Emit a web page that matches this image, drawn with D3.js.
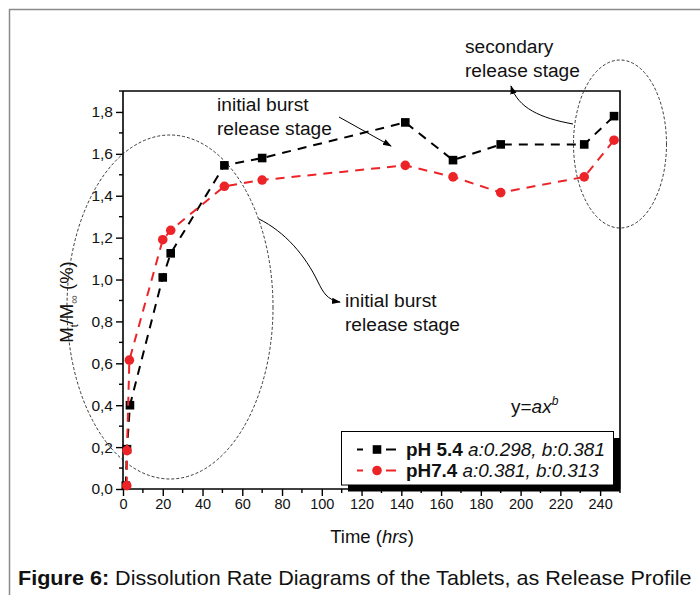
<!DOCTYPE html>
<html>
<head>
<meta charset="utf-8">
<script src="https://cdn.jsdelivr.net/npm/d3@7"></script>
<style>
  html, body { margin: 0; padding: 0; background: #fff; }
  svg { display: block; font-family: "Liberation Sans", Arial, sans-serif; }
</style>
</head>
<body>
<svg id="chart" width="700" height="595"></svg>
<script>
// ---- data ----
const timesPH54 = [1.4, 2, 3.5, 20, 24, 51, 70, 142, 166, 190, 232, 247];
const valuesPH54 = [0.016, 0.19, 0.40, 1.01, 1.125, 1.545, 1.58, 1.75, 1.57, 1.645, 1.645, 1.78];
const timesPH74 = [1.9, 2, 3.2, 20, 24, 51, 70, 142, 166, 190, 232, 247];
const valuesPH74 = [0.016, 0.183, 0.615, 1.19, 1.235, 1.445, 1.475, 1.545, 1.49, 1.415, 1.49, 1.665];
const xTickValues = [0, 20, 40, 60, 80, 100, 120, 140, 160, 180, 200, 220, 240];
const yTickValues = [0, 0.2, 0.4, 0.6, 0.8, 1.0, 1.2, 1.4, 1.6, 1.8];
const legendLabels = [
  {bold: "pH 5.4", italic: " a:0.298, b:0.381"},
  {bold: "pH7.4", italic: " a:0.381, b:0.313"}
];

const svg = d3.select("#chart");
const L = 123, R = 620, T = 91, B = 489;
const x = d3.scaleLinear().domain([0, 250]).range([L, R]);
const y = d3.scaleLinear().domain([0, 1.9]).range([B, T]);

// stretch a text element horizontally so it spans a given width from its left x
function fitWidth(t, x0, width) {
  const len = t.node().getComputedTextLength();
  const sx = width / len;
  const yv = +t.attr("y");
  t.attr("x", 0).attr("y", 0).attr("transform", `translate(${x0},${yv}) scale(${sx},1)`);
  t.selectAll("tspan[data-x]").attr("x", 0);
}

// outer border
svg.append("path").attr("d", "M9.5,595 L9.5,9.5 L700,9.5")
  .attr("fill", "none").attr("stroke", "#8a8a8a").attr("stroke-width", 1.5);

// frame top & right
svg.append("path").attr("d", `M${L},${T} L${R},${T} L${R},${B}`)
  .attr("fill", "none").attr("stroke", "#000").attr("stroke-width", 1.6);

// x axis
const fmt = d => d3.format(".1f")(d).replace(".", ",");
const xAxis = d3.axisBottom(x).tickValues(xTickValues).tickSize(7).tickPadding(3).tickFormat(d3.format("d"));
const gx = svg.append("g").attr("transform", `translate(0,${B})`).call(xAxis);
gx.select(".domain").attr("stroke-width", 1.6).attr("d", `M${L},0H${R}`);
gx.selectAll(".tick line").attr("stroke-width", 1.4);
gx.selectAll("text").attr("font-size", 14.5).attr("fill", "#111").attr("font-family", "Liberation Sans, Arial");
const xMinor = d3.range(10, 251, 20);
gx.selectAll(".minor").data(xMinor).enter().append("line")
  .attr("x1", d => x(d)).attr("x2", d => x(d)).attr("y1", 0).attr("y2", 4)
  .attr("stroke", "#000").attr("stroke-width", 1.4);

// y axis
const yAxis = d3.axisLeft(y).tickValues(yTickValues).tickSize(7).tickPadding(3).tickFormat(fmt);
const gy = svg.append("g").attr("transform", `translate(${L},0)`).call(yAxis);
gy.select(".domain").attr("stroke-width", 1.6).attr("d", `M0,${B}V${T}`);
gy.selectAll(".tick line").attr("stroke-width", 1.4);
gy.selectAll("text").attr("font-size", 15.5).attr("fill", "#111").attr("font-family", "Liberation Sans, Arial");
const yMinor = d3.range(0.1, 1.95, 0.2);
gy.selectAll(".minor").data(yMinor).enter().append("line")
  .attr("x1", 0).attr("x2", -4).attr("y1", d => y(d)).attr("y2", d => y(d))
  .attr("stroke", "#000").attr("stroke-width", 1.4);

// axis titles
const xt = svg.append("text").attr("x", 372).attr("y", 543).attr("text-anchor", "middle")
  .attr("font-size", 18.5).attr("fill", "#111");
xt.append("tspan").text("Time (");
xt.append("tspan").attr("font-style", "italic").text("hrs");
xt.append("tspan").text(")");

const yt = svg.append("text").attr("transform", "translate(73,302) rotate(-90)")
  .attr("text-anchor", "middle").attr("font-size", 18.5).attr("fill", "#111");
yt.append("tspan").text("M");
yt.append("tspan").attr("font-size", 11).attr("dy", 5).text("t");
yt.append("tspan").attr("dy", -5).text("/M");
yt.append("tspan").attr("font-size", 12).attr("dy", 5).attr("fill", "#555").text("∞");
yt.append("tspan").attr("dy", -5).text(" (%)");

// annotation ellipses
svg.append("ellipse").attr("cx", 170).attr("cy", 307).attr("rx", 103).attr("ry", 172)
  .attr("fill", "none").attr("stroke", "#222").attr("stroke-width", 0.9).attr("stroke-dasharray", "3,2");
svg.append("ellipse").attr("cx", 620).attr("cy", 144).attr("rx", 46.5).attr("ry", 84)
  .attr("fill", "none").attr("stroke", "#222").attr("stroke-width", 0.9).attr("stroke-dasharray", "3,2");

// series
const series = [
  {t: timesPH54, v: valuesPH54, color: "#000", shape: "square"},
  {t: timesPH74, v: valuesPH74, color: "#ec2428", shape: "circle"}
];
series.forEach(s => {
  const pts = s.t.map((t, i) => [t, s.v[i]]);
  const line = d3.line().x(d => x(d[0])).y(d => y(d[1]));
  svg.append("path").datum(pts).attr("d", line)
    .attr("fill", "none").attr("stroke", s.color).attr("stroke-width", 2)
    .attr("stroke-dasharray", "9,7");
  if (s.shape === "square") {
    svg.selectAll(null).data(pts).enter().append("rect")
      .attr("x", d => x(d[0]) - 4.3).attr("y", d => y(d[1]) - 4.3)
      .attr("width", 8.6).attr("height", 8.6).attr("fill", s.color);
  } else {
    svg.selectAll(null).data(pts).enter().append("circle")
      .attr("cx", d => x(d[0])).attr("cy", d => y(d[1])).attr("r", 4.8).attr("fill", s.color);
  }
});

// arrowhead marker
const defs = svg.append("defs");
defs.append("marker").attr("id", "arr").attr("viewBox", "0 0 10 10").attr("refX", 9).attr("refY", 5)
  .attr("markerWidth", 9).attr("markerHeight", 9).attr("markerUnits", "userSpaceOnUse").attr("orient", "auto")
  .append("path").attr("d", "M0,1.5 L10,5 L0,8.5 Z").attr("fill", "#000");

// annotation texts
function twoLine(xp, yp, l1, l2) {
  const t1 = svg.append("text").attr("x", xp).attr("y", yp).attr("font-size", 19).attr("fill", "#111").text(l1);
  const t2 = svg.append("text").attr("x", xp).attr("y", yp + 23.5).attr("font-size", 19).attr("fill", "#111").text(l2);
  fitWidth(t2, xp, 115);
  const len1 = t1.node().getComputedTextLength();
  fitWidth(t1, xp, len1 * 115 / (t2.node().getComputedTextLength()));
}
twoLine(217, 111, "initial burst", "release stage");
twoLine(345, 307, "initial burst", "release stage");
twoLine(465, 53, "secondary", "release stage");

// arrows
svg.append("path").attr("d", "M339,117 L391,146").attr("stroke", "#000").attr("stroke-width", 1)
  .attr("fill", "none").attr("marker-end", "url(#arr)");
svg.append("path").attr("d", "M259,219 C285,232 305,255 318,282 C323,292 327,300 340,302").attr("stroke", "#000").attr("stroke-width", 1)
  .attr("fill", "none").attr("marker-end", "url(#arr)");
svg.append("path").attr("d", "M573,124 C540,118 518,108 511,86").attr("stroke", "#000").attr("stroke-width", 1)
  .attr("fill", "none").attr("marker-end", "url(#arr)");

// formula
const ft = svg.append("text").attr("x", 511).attr("y", 413).attr("font-size", 19).attr("font-style", "italic").attr("fill", "#111");
ft.append("tspan").attr("font-style", "normal").text("y=");
ft.append("tspan").text("ax");
ft.append("tspan").attr("font-size", 12).attr("dy", -8).text("b");

// legend
const lg = svg.append("g");
lg.append("rect").attr("x", 348).attr("y", 438).attr("width", 272).attr("height", 53.5).attr("fill", "#000");
lg.append("rect").attr("x", 341.5).attr("y", 431.5).attr("width", 272).attr("height", 53.5)
  .attr("fill", "#fff").attr("stroke", "#000").attr("stroke-width", 1);
legendLabels.forEach((lab, i) => {
  const cy = 449.5 + i * 21;
  const s = series[i];
  lg.append("line").attr("x1", 357).attr("x2", 363).attr("y1", cy).attr("y2", cy).attr("stroke", s.color).attr("stroke-width", 2);
  lg.append("line").attr("x1", 386).attr("x2", 396).attr("y1", cy).attr("y2", cy).attr("stroke", s.color).attr("stroke-width", 2);
  if (s.shape === "square") {
    lg.append("rect").attr("x", 377 - 4.3).attr("y", cy - 4.3).attr("width", 8.6).attr("height", 8.6).attr("fill", s.color);
  } else {
    lg.append("circle").attr("cx", 377).attr("cy", cy).attr("r", 4.8).attr("fill", s.color);
  }
  const t = lg.append("text").attr("x", 406).attr("y", cy + 6.5).attr("font-size", 18).attr("fill", "#111");
  t.append("tspan").attr("font-weight", "bold").text(lab.bold);
  t.append("tspan").attr("font-style", "italic").text(lab.italic);
  fitWidth(t, 406, i === 0 ? 199 : 193);
});

// caption
const cap = svg.append("text").attr("x", 18).attr("y", 585).attr("font-size", 20).attr("fill", "#111");
cap.append("tspan").attr("font-weight", "bold").text("Figure 6:");
cap.append("tspan").text(" Dissolution Rate Diagrams of the Tablets, as Release Profile");
fitWidth(cap, 18, 674);
</script>
</body>
</html>
